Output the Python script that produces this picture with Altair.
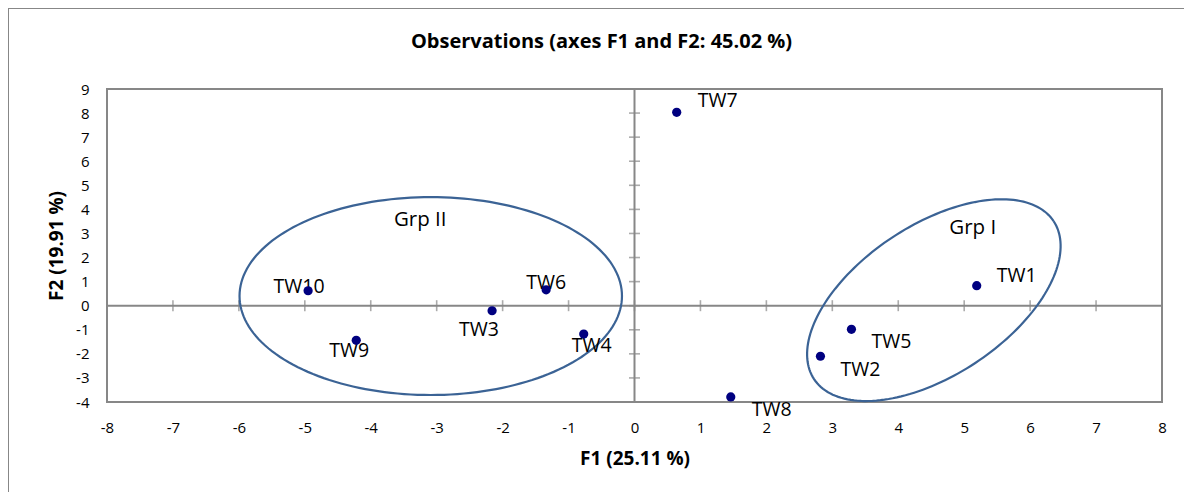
import altair as alt
import numpy as np
import pandas as pd

# ---- data ----
labels = ["TW1", "TW2", "TW3", "TW4", "TW5", "TW6", "TW7", "TW8", "TW9", "TW10"]
f1 = [5.19, 2.82, -2.16, -0.77, 3.29, -1.34, 0.64, 1.46, -4.22, -4.95]
f2 = [0.83, -2.10, -0.21, -1.18, -0.98, 0.66, 8.03, -3.79, -1.44, 0.62]

x_ticks = list(range(-8, 9))
y_ticks = list(range(-4, 10))

group_names = ["Grp I", "Grp II"]
group_x = [5.13, -3.25]
group_y = [3.21, 3.56]

title_text = "Observations (axes F1 and F2: 45.02 %)"
x_title = "F1 (25.11 %)"
y_title = "F2 (19.91 %)"

# ellipse annotations: centre and two conjugate semi-axis vectors (data units)
ell_name = ["Grp I", "Grp II"]
ell_cx = [4.54, -3.09]
ell_cy = [0.23, 0.40]
ell_a = [(1.817, 3.278), (2.90, 0.0)]
ell_b = [(-0.628, 2.610), (0.0, 4.11)]

# label placement (pixels) relative to each point
label_offsets = {
    "TW1": (40, -10), "TW2": (40, 14), "TW3": (-13, 19), "TW4": (8, 12),
    "TW5": (40, 13), "TW6": (0, -7), "TW7": (41, -11), "TW8": (41, 13),
    "TW9": (-7, 11), "TW10": (-9, -4),
}

FONT = "Open Sans"
GRAY = "#878787"

pts = pd.DataFrame({"label": labels, "F1": f1, "F2": f2})

rows = []
t = np.linspace(0, 2 * np.pi, 181)
for n, cx, cy, a, b in zip(ell_name, ell_cx, ell_cy, ell_a, ell_b):
    for i, tt in enumerate(t):
        rows.append({"grp": n, "i": i,
                     "F1": cx + a[0] * np.cos(tt) + b[0] * np.sin(tt),
                     "F2": cy + a[1] * np.cos(tt) + b[1] * np.sin(tt)})
ell = pd.DataFrame(rows)

xs = alt.Scale(domain=[-8, 8], nice=False, zero=False)
ys = alt.Scale(domain=[-4, 9], nice=False, zero=False)

x_axis = alt.Axis(values=x_ticks, grid=False, domain=False, ticks=False,
                  labelExpr="'' + datum.value", labelOverlap=False,
                  labelPadding=30, labelBaseline="alphabetic",
                  labelFont=FONT, labelFontSize=15, labelColor="black",
                  titleFont=FONT, titleFontSize=19, titleFontWeight="bold",
                  titleColor="black", titleBaseline="alphabetic",
                  titleY=62.5, titleX=527.5, labelFlush=False)
y_axis = alt.Axis(values=y_ticks, grid=False, domain=False, ticks=False,
                  labelExpr="'' + datum.value", labelOverlap=False,
                  labelPadding=18, labelFont=FONT, labelFontSize=15,
                  labelColor="black", labelFlush=False,
                  titleFont=FONT, titleFontSize=19, titleFontWeight="bold",
                  titleColor="black", titleBaseline="alphabetic",
                  titleAngle=-90, titleX=-45, titleY=156.5,
                  titleAlign="center")


def X(field):
    return alt.X(field, scale=xs, axis=x_axis, title=x_title)


def Y(field):
    return alt.Y(field, scale=ys, axis=y_axis, title=y_title)


base = alt.Chart(pts)
one = pd.DataFrame({"a": [0]})

# outer chart-area frame (left and top edges; the rest lies beyond the picture)
frame_left = alt.Chart(one).mark_rule(color=GRAY, strokeWidth=2).encode(
    x=alt.value(-99), y=alt.value(-81), y2=alt.value(500))
frame_top = alt.Chart(one).mark_rule(color=GRAY, strokeWidth=2).encode(
    x=alt.value(-99), x2=alt.value(1200), y=alt.value(-81))

title = alt.Chart(pd.DataFrame({"t": [title_text]})).mark_text(
    font=FONT, fontSize=20, fontWeight="bold", color="black",
    baseline="alphabetic", align="center"
).encode(x=alt.value(494.5), y=alt.value(-41), text="t:N")

zero_x = alt.Chart(pd.DataFrame({"v": [0]})).mark_rule(color=GRAY, strokeWidth=2).encode(
    y=Y("v:Q"))
zero_y = alt.Chart(pd.DataFrame({"v": [0]})).mark_rule(color=GRAY, strokeWidth=2).encode(
    x=X("v:Q"))

xt = alt.Chart(pd.DataFrame({"v": x_ticks, "z": 0})).mark_tick(
    orient="vertical", size=11, thickness=1.6, color=GRAY
).encode(x=X("v:Q"), y=Y("z:Q"))
yt = alt.Chart(pd.DataFrame({"v": y_ticks, "z": 0})).mark_tick(
    orient="horizontal", size=11, thickness=1.6, color=GRAY
).encode(y=Y("v:Q"), x=X("z:Q"))

ellipses = alt.Chart(ell).mark_line(color="#3B6395", strokeWidth=2.2).encode(
    x=X("F1:Q"), y=Y("F2:Q"), detail="grp:N", order="i:Q")

grp_text = alt.Chart(pd.DataFrame({"n": group_names, "F1": group_x, "F2": group_y})).mark_text(
    font=FONT, fontSize=20.5, color="black"
).encode(x=X("F1:Q"), y=Y("F2:Q"), text="n:N")

text_layers = []
for lab in labels:
    dx, dy = label_offsets[lab]
    text_layers.append(
        base.transform_filter(alt.datum.label == lab).mark_text(
            font=FONT, fontSize=19.5, color="black", dx=dx, dy=dy
        ).encode(x=X("F1:Q"), y=Y("F2:Q"), text="label:N")
    )

points = base.mark_circle(size=85, color="#000080", opacity=1).encode(
    x=X("F1:Q"), y=Y("F2:Q"))

chart = alt.layer(
    frame_left, frame_top, title, zero_x, zero_y, xt, yt, ellipses, grp_text,
    *text_layers, points
).properties(
    width=1055, height=313,
    padding={"left": 99, "top": 81, "right": 22, "bottom": 90},
    autosize=alt.AutoSizeParams(type="none"),
).configure_view(stroke=GRAY, strokeWidth=2)

chart.save("out.html", embed_options={"renderer": "svg", "actions": False})
